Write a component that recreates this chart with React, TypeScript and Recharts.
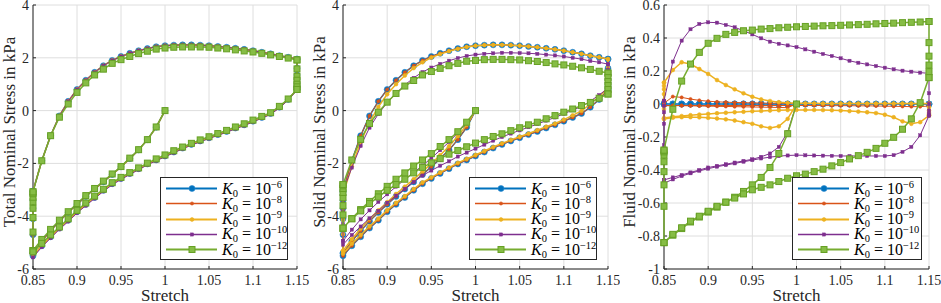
import { ScatterChart, Scatter, XAxis, YAxis, CartesianGrid } from "recharts";

// stretch steps: first compression from 1 to 0.85, loading to 1.15, unloading back to 0.85
const X_INIT = [1.0, 0.99, 0.98, 0.97, 0.96, 0.95, 0.94, 0.93, 0.92, 0.91, 0.9, 0.89, 0.88, 0.87, 0.86, 0.85];
const X_LOAD = [
  0.85, 0.86, 0.87, 0.88, 0.89, 0.9, 0.91, 0.92, 0.93, 0.94, 0.95, 0.96, 0.97, 0.98, 0.99, 1.0,
  1.01, 1.02, 1.03, 1.04, 1.05, 1.06, 1.07, 1.08, 1.09, 1.1, 1.11, 1.12, 1.13, 1.14, 1.15,
];
const X_UNLOAD = [
  1.15, 1.14, 1.13, 1.12, 1.11, 1.1, 1.09, 1.08, 1.07, 1.06, 1.05, 1.04, 1.03, 1.02, 1.01, 1.0,
  0.99, 0.98, 0.97, 0.96, 0.95, 0.94, 0.93, 0.92, 0.91, 0.9, 0.89, 0.88, 0.87, 0.86, 0.85,
];
const HOLD_LOW = 0.85;
const HOLD_HIGH = 1.15;

const X_TICKS = [0.85, 0.9, 0.95, 1, 1.05, 1.1, 1.15];
const STRESS_TICKS = [-6, -4, -2, 0, 2, 4];
const FLUID_TICKS = [-1, -0.8, -0.6, -0.4, -0.2, 0, 0.2, 0.4, 0.6];

// ---- total stress (K0 = 1e-6, 1e-8, 1e-9 overlap) ----
const TOTAL_INIT = [0, -0.63, -1.1, -1.49, -1.82, -2.13, -2.42, -2.7, -2.97, -3.25, -3.55, -3.86, -4.19, -4.55, -4.95, -5.4];
const TOTAL_HOLD1 = [-5.4, -4.7, -4.1, -3.7, -3.4, -3.2, -3.1, -3.05];
const TOTAL_LOAD = [
  -3.05, -1.9, -0.95, -0.2, 0.35, 0.8, 1.15, 1.45, 1.7, 1.9, 2.05, 2.17, 2.27, 2.35, 2.42, 2.46,
  2.48, 2.49, 2.49, 2.48, 2.46, 2.43, 2.4, 2.36, 2.32, 2.27, 2.21, 2.15, 2.08, 2.02, 1.95,
];
const TOTAL_HOLD2 = [1.95, 1.6, 1.35, 1.18, 1.05, 0.95, 0.87, 0.8];
const TOTAL_UNLOAD = [
  0.8, 0.42, 0.13, -0.11, -0.26, -0.4, -0.54, -0.66, -0.79, -0.91, -1.03, -1.15, -1.28, -1.42, -1.57, -1.72,
  -1.87, -2.02, -2.2, -2.38, -2.57, -2.77, -3.02, -3.29, -3.55, -3.83, -4.15, -4.45, -4.78, -5.12, -5.5,
];
const PURPLE_TOTAL_HOLD2 = [1.95, 1.6, 1.35, 1.15, 1.0, 0.88, 0.78];
const PURPLE_TOTAL_UNLOAD = [
  0.78, 0.4, 0.1, -0.14, -0.29, -0.43, -0.57, -0.69, -0.82, -0.94, -1.06, -1.18, -1.31, -1.45, -1.6, -1.75,
  -1.9, -2.06, -2.24, -2.42, -2.61, -2.81, -3.06, -3.33, -3.6, -3.88, -4.2, -4.5, -4.83, -5.17, -5.56,
];
const GREEN_TOTAL_INIT = [0, -0.62, -1.1, -1.48, -1.8, -2.12, -2.4, -2.67, -2.95, -3.22, -3.52, -3.83, -4.15, -4.5, -4.88, -5.3];
const GREEN_TOTAL_HOLD1 = [-5.3, -4.6, -4.05, -3.7, -3.45, -3.28, -3.15, -3.08];
const GREEN_TOTAL_LOAD = [
  -3.08, -1.9, -0.95, -0.25, 0.25, 0.69, 1.05, 1.35, 1.57, 1.79, 1.93, 2.05, 2.16, 2.25, 2.33, 2.37,
  2.4, 2.41, 2.41, 2.41, 2.4, 2.37, 2.34, 2.3, 2.26, 2.22, 2.17, 2.11, 2.05, 1.99, 1.92,
];
const GREEN_TOTAL_HOLD2 = [1.92, 1.58, 1.3, 1.15, 1.0, 0.9, 0.8];
const GREEN_TOTAL_UNLOAD = [
  0.8, 0.44, 0.16, -0.08, -0.22, -0.36, -0.5, -0.62, -0.75, -0.87, -0.99, -1.11, -1.24, -1.38, -1.52, -1.68,
  -1.83, -1.99, -2.17, -2.35, -2.53, -2.73, -2.98, -3.24, -3.5, -3.78, -4.1, -4.41, -4.71, -5.03, -5.35,
];

// ---- solid stress ----
const YELLOW_SOLID_INIT = [0, -0.54, -0.97, -1.35, -1.69, -2.01, -2.31, -2.6, -2.88, -3.16, -3.47, -3.78, -4.11, -4.47, -4.87, -5.31];
const YELLOW_SOLID_HOLD1 = [-5.31, -4.68, -4.14, -3.78, -3.51, -3.33, -3.18];
const YELLOW_SOLID_LOAD = [
  -3.18, -2.11, -1.2, -0.44, 0.14, 0.62, 1.0, 1.33, 1.61, 1.83, 2.01, 2.14, 2.25, 2.34, 2.41, 2.46,
  2.48, 2.49, 2.49, 2.48, 2.46, 2.43, 2.4, 2.36, 2.32, 2.27, 2.21, 2.15, 2.08, 2.02, 1.95,
];
const YELLOW_SOLID_HOLD2 = [1.95, 1.62, 1.38, 1.2, 1.07, 0.96, 0.87];
const YELLOW_SOLID_UNLOAD = [
  0.87, 0.53, 0.25, -0.01, -0.18, -0.34, -0.49, -0.61, -0.74, -0.87, -0.99, -1.11, -1.24, -1.38, -1.53, -1.68,
  -1.83, -1.98, -2.16, -2.34, -2.53, -2.72, -2.97, -3.24, -3.49, -3.77, -4.09, -4.38, -4.71, -5.04, -5.42,
];
const PURPLE_SOLID_INIT = [0, -0.46, -0.84, -1.19, -1.5, -1.8, -2.08, -2.35, -2.61, -2.88, -3.17, -3.46, -3.78, -4.12, -4.51, -4.94];
const PURPLE_SOLID_HOLD1 = [-4.94, -4.3, -3.8, -3.45, -3.22, -3.07];
const PURPLE_SOLID_LOAD = [
  -3.07, -2.16, -1.34, -0.65, -0.13, 0.3, 0.66, 0.97, 1.24, 1.46, 1.63, 1.77, 1.89, 1.99, 2.07, 2.12,
  2.15, 2.17, 2.19, 2.19, 2.18, 2.17, 2.15, 2.12, 2.09, 2.05, 2.0, 1.95, 1.88, 1.83, 1.76,
];
const PURPLE_SOLID_HOLD2 = [1.76, 1.54, 1.35, 1.19, 1.06, 0.95, 0.85];
const PURPLE_SOLID_UNLOAD = [
  0.85, 0.59, 0.36, 0.15, 0.02, -0.12, -0.26, -0.38, -0.51, -0.63, -0.75, -0.87, -1.0, -1.14, -1.29, -1.44,
  -1.59, -1.74, -1.92, -2.09, -2.27, -2.46, -2.7, -2.96, -3.22, -3.49, -3.8, -4.08, -4.39, -4.71, -5.08,
];
const GREEN_SOLID_INIT = [0, -0.44, -0.8, -1.1, -1.36, -1.63, -1.87, -2.1, -2.36, -2.6, -2.87, -3.15, -3.44, -3.75, -4.09, -4.46];
const GREEN_SOLID_HOLD1 = [-4.46, -3.95, -3.6, -3.3, -3.1, -2.95, -2.85, -2.8];
const GREEN_SOLID_LOAD = [
  -2.8, -1.87, -1.09, -0.49, -0.06, 0.32, 0.65, 0.93, 1.14, 1.35, 1.48, 1.6, 1.7, 1.79, 1.87, 1.9,
  1.93, 1.94, 1.94, 1.93, 1.92, 1.89, 1.86, 1.82, 1.77, 1.73, 1.68, 1.62, 1.56, 1.49, 1.42,
];
const GREEN_SOLID_HOLD2 = [1.42, 1.25, 1.1, 0.95, 0.8, 0.63];
const GREEN_SOLID_UNLOAD = [
  0.63, 0.47, 0.31, 0.19, 0.06, -0.06, -0.19, -0.31, -0.44, -0.54, -0.65, -0.76, -0.88, -0.98, -1.1, -1.23,
  -1.37, -1.51, -1.65, -1.82, -1.98, -2.15, -2.36, -2.6, -2.8, -3.02, -3.27, -3.52, -3.8, -4.1, -4.45,
];

// ---- fluid stress ----
const BLUE_FLUID_INIT = [0, 0, 0, 0, 0, 0, 0, 0, 0, 0, 0, 0, 0, 0, 0, 0];
const BLUE_FLUID_HOLD = [0];
const BLUE_FLUID_LOAD = [
  0, 0, 0, 0, 0, 0, 0, 0, 0, 0, 0, 0, 0, 0, 0, 0,
  0, 0, 0, 0, 0, 0, 0, 0, 0, 0, 0, 0, 0, 0, 0,
];
const BLUE_FLUID_UNLOAD = [
  0, 0, 0, 0, 0, 0, 0, 0, 0, 0, 0, 0, 0, 0, 0, 0,
  0, 0, 0, 0, 0, 0, 0, 0, 0, 0, 0, 0, 0, 0, 0,
];
const RED_FLUID_INIT = [0, -0.022, -0.021, -0.02, -0.019, -0.018, -0.017, -0.016, -0.015, -0.014, -0.013, -0.012, -0.011, -0.01, -0.01, -0.01];
const RED_FLUID_HOLD1 = [-0.01, 0, 0.004];
const RED_FLUID_LOAD = [
  0.004, 0.045, 0.04, 0.03, 0.022, 0.017, 0.013, 0.011, 0.009, 0.008, 0.007, 0.006, 0.005, 0.005, 0.004, 0.004,
  0.003, 0.003, 0.003, 0.003, 0.003, 0.003, 0.002, 0.002, 0.002, 0.002, 0.002, 0.002, 0.002, 0.002, 0.002,
];
const RED_FLUID_HOLD2 = [0.002, -0.005, -0.012];
const RED_FLUID_UNLOAD = [
  -0.012, -0.016, -0.016, -0.015, -0.014, -0.013, -0.012, -0.011, -0.011, -0.01, -0.01, -0.01, -0.009, -0.009, -0.009, -0.009,
  -0.009, -0.009, -0.009, -0.009, -0.009, -0.009, -0.009, -0.009, -0.009, -0.009, -0.009, -0.009, -0.009, -0.009, -0.01,
];
const YELLOW_FLUID_INIT = [0, -0.09, -0.135, -0.145, -0.135, -0.12, -0.11, -0.1, -0.093, -0.088, -0.084, -0.081, -0.08, -0.08, -0.083, -0.09];
const YELLOW_FLUID_HOLD1 = [-0.09, -0.03, 0.02, 0.06, 0.09, 0.11, 0.13];
const YELLOW_FLUID_LOAD = [
  0.13, 0.206, 0.253, 0.242, 0.212, 0.182, 0.145, 0.115, 0.089, 0.065, 0.044, 0.028, 0.018, 0.011, 0.007, 0.005,
  0.004, 0.004, 0.003, 0.003, 0.003, 0.003, 0.003, 0.003, 0.003, 0.003, 0.003, 0.003, 0.003, 0.003, 0.003,
];
const YELLOW_FLUID_HOLD2 = [0.003, -0.02, -0.04, -0.055, -0.065, -0.07];
const YELLOW_FLUID_UNLOAD = [
  -0.07, -0.11, -0.12, -0.105, -0.08, -0.065, -0.055, -0.05, -0.046, -0.043, -0.04, -0.038, -0.037, -0.036, -0.036, -0.036,
  -0.037, -0.038, -0.04, -0.042, -0.044, -0.047, -0.05, -0.053, -0.056, -0.06, -0.064, -0.068, -0.073, -0.078, -0.085,
];
const PURPLE_FLUID_INIT = [0, -0.17, -0.26, -0.3, -0.32, -0.335, -0.345, -0.355, -0.365, -0.375, -0.385, -0.4, -0.415, -0.43, -0.445, -0.46];
const PURPLE_FLUID_HOLD1 = [-0.46, -0.25, -0.12, -0.05, -0.01, 0.02];
const PURPLE_FLUID_LOAD = [
  0.02, 0.257, 0.384, 0.453, 0.485, 0.495, 0.493, 0.479, 0.465, 0.444, 0.422, 0.398, 0.378, 0.365, 0.355, 0.345,
  0.331, 0.317, 0.303, 0.291, 0.277, 0.262, 0.25, 0.24, 0.23, 0.22, 0.21, 0.202, 0.196, 0.19, 0.186,
];
const PURPLE_FLUID_HOLD2 = [0.186, 0.065, 0, -0.04, -0.06, -0.07];
const PURPLE_FLUID_UNLOAD = [
  -0.07, -0.19, -0.26, -0.29, -0.31, -0.315, -0.315, -0.315, -0.315, -0.315, -0.315, -0.314, -0.313, -0.312, -0.311, -0.31,
  -0.312, -0.316, -0.322, -0.33, -0.34, -0.35, -0.36, -0.37, -0.38, -0.392, -0.405, -0.42, -0.437, -0.457, -0.48,
];
const GREEN_FLUID_INIT = [0, -0.18, -0.3, -0.385, -0.445, -0.49, -0.53, -0.565, -0.595, -0.625, -0.655, -0.685, -0.715, -0.755, -0.795, -0.84];
const GREEN_FLUID_HOLD1 = [-0.84, -0.62, -0.49, -0.41, -0.35, -0.31, -0.29, -0.28];
const GREEN_FLUID_LOAD = [
  -0.28, -0.032, 0.139, 0.242, 0.313, 0.368, 0.398, 0.422, 0.434, 0.444, 0.448, 0.454, 0.457, 0.462, 0.465, 0.468,
  0.47, 0.472, 0.474, 0.475, 0.477, 0.479, 0.481, 0.483, 0.486, 0.488, 0.49, 0.493, 0.495, 0.497, 0.5,
];
const GREEN_FLUID_HOLD2 = [0.5, 0.372, 0.29, 0.236, 0.196, 0.16];
const GREEN_FLUID_UNLOAD = [
  0.16, 0.008, -0.09, -0.153, -0.202, -0.238, -0.269, -0.293, -0.313, -0.333, -0.355, -0.375, -0.395, -0.41, -0.425, -0.435,
  -0.45, -0.47, -0.49, -0.505, -0.52, -0.545, -0.57, -0.595, -0.62, -0.65, -0.68, -0.71, -0.75, -0.79, -0.84,
];

type Branches = number[][];

const SERIES = [
  { exp: "6", color: "#0072BD", width: 1.5, marker: "circle", size: 3, fill: "#0072BD", edge: "#2b8ad0" },
  { exp: "8", color: "#D95319", width: 1, marker: "circle", size: 1.6, fill: "#D95319", edge: "#D95319" },
  { exp: "9", color: "#EDB120", width: 1.5, marker: "circle", size: 1.9, fill: "#EDB120", edge: "#EDB120" },
  { exp: "10", color: "#7E2F8E", width: 1, marker: "square", size: 1.6, fill: "#7E2F8E", edge: "#7E2F8E" },
  { exp: "12", color: "#77AC30", width: 1.5, marker: "square", size: 3, fill: "#86bd45", edge: "#66a024" },
];

const TOTAL_SERIES: Branches[] = [
  [TOTAL_INIT, TOTAL_HOLD1, TOTAL_LOAD, TOTAL_HOLD2, TOTAL_UNLOAD],
  [TOTAL_INIT, TOTAL_HOLD1, TOTAL_LOAD, TOTAL_HOLD2, TOTAL_UNLOAD],
  [TOTAL_INIT, TOTAL_HOLD1, TOTAL_LOAD, TOTAL_HOLD2, TOTAL_UNLOAD],
  [TOTAL_INIT, TOTAL_HOLD1, TOTAL_LOAD, PURPLE_TOTAL_HOLD2, PURPLE_TOTAL_UNLOAD],
  [GREEN_TOTAL_INIT, GREEN_TOTAL_HOLD1, GREEN_TOTAL_LOAD, GREEN_TOTAL_HOLD2, GREEN_TOTAL_UNLOAD],
];
const SOLID_SERIES: Branches[] = [
  [TOTAL_INIT, TOTAL_HOLD1, TOTAL_LOAD, TOTAL_HOLD2, TOTAL_UNLOAD],
  [TOTAL_INIT, TOTAL_HOLD1, TOTAL_LOAD, TOTAL_HOLD2, TOTAL_UNLOAD],
  [YELLOW_SOLID_INIT, YELLOW_SOLID_HOLD1, YELLOW_SOLID_LOAD, YELLOW_SOLID_HOLD2, YELLOW_SOLID_UNLOAD],
  [PURPLE_SOLID_INIT, PURPLE_SOLID_HOLD1, PURPLE_SOLID_LOAD, PURPLE_SOLID_HOLD2, PURPLE_SOLID_UNLOAD],
  [GREEN_SOLID_INIT, GREEN_SOLID_HOLD1, GREEN_SOLID_LOAD, GREEN_SOLID_HOLD2, GREEN_SOLID_UNLOAD],
];
const FLUID_SERIES: Branches[] = [
  [BLUE_FLUID_INIT, BLUE_FLUID_HOLD, BLUE_FLUID_LOAD, BLUE_FLUID_HOLD, BLUE_FLUID_UNLOAD],
  [RED_FLUID_INIT, RED_FLUID_HOLD1, RED_FLUID_LOAD, RED_FLUID_HOLD2, RED_FLUID_UNLOAD],
  [YELLOW_FLUID_INIT, YELLOW_FLUID_HOLD1, YELLOW_FLUID_LOAD, YELLOW_FLUID_HOLD2, YELLOW_FLUID_UNLOAD],
  [PURPLE_FLUID_INIT, PURPLE_FLUID_HOLD1, PURPLE_FLUID_LOAD, PURPLE_FLUID_HOLD2, PURPLE_FLUID_UNLOAD],
  [GREEN_FLUID_INIT, GREEN_FLUID_HOLD1, GREEN_FLUID_LOAD, GREEN_FLUID_HOLD2, GREEN_FLUID_UNLOAD],
];

function toPath(b: Branches) {
  const [init, hold1, load, hold2, unload] = b;
  return [
    ...init.map((y, i) => ({ x: X_INIT[i], y })),
    ...hold1.map((y) => ({ x: HOLD_LOW, y })),
    ...load.map((y, i) => ({ x: X_LOAD[i], y })),
    ...hold2.map((y) => ({ x: HOLD_HIGH, y })),
    ...unload.map((y, i) => ({ x: X_UNLOAD[i], y })),
  ];
}

const INK = "#262626";
const FONT = "'Liberation Serif', 'Times New Roman', serif";

function Marker({ s, cx, cy }: { s: (typeof SERIES)[number]; cx: number; cy: number }) {
  if (s.marker === "circle") {
    return <circle cx={cx} cy={cy} r={s.size} fill={s.fill} stroke={s.edge} strokeWidth={0.6} />;
  }
  return (
    <rect
      x={cx - s.size}
      y={cy - s.size}
      width={s.size * 2}
      height={s.size * 2}
      fill={s.fill}
      stroke={s.edge}
      strokeWidth={s.size > 2 ? 1 : 0.4}
    />
  );
}

function Legend({ left, width }: { left: number; width: number }) {
  return (
    <div
      style={{
        position: "absolute",
        left,
        top: 177,
        width,
        height: 83,
        boxSizing: "border-box",
        border: `1px solid ${INK}`,
        background: "#fff",
        fontFamily: FONT,
        color: "#000",
      }}
    >
      {SERIES.map((s, i) => (
        <div key={s.exp} style={{ position: "absolute", left: 0, top: 3 + i * 15.3, height: 15, width: "100%" }}>
          <svg width={60} height={15} style={{ position: "absolute", left: 0, top: 0 }}>
            <line x1={5} x2={56} y1={7.5} y2={7.5} stroke={s.color} strokeWidth={s.width + 0.5} />
            <Marker s={s} cx={31} cy={7.5} />
          </svg>
          <span
            style={{
              position: "absolute",
              left: 61,
              top: -0.5,
              fontSize: 16,
              lineHeight: "15px",
              whiteSpace: "nowrap",
            }}
          >
            <i>K</i>
            <span style={{ fontSize: 10.5, position: "relative", top: 3 }}>0</span>
            {" = 10"}
            <span style={{ fontSize: 10.5, position: "relative", top: -6 }}>{"\u2212" + s.exp}</span>
          </span>
        </div>
      ))}
    </div>
  );
}

type PanelProps = {
  left: number;
  width: number;
  axisWidth: number;
  rightMargin: number;
  labelDx: number;
  label: string;
  domain: [number, number];
  ticks: number[];
  series: Branches[];
  legendLeft: number;
  legendWidth: number;
};

function Panel(p: PanelProps) {
  const tickStyle = { fill: INK, fontSize: 14, fontFamily: FONT };
  return (
    <div style={{ position: "absolute", left: p.left, top: 0, width: p.width, height: 303 }}>
      <ScatterChart width={p.width} height={303} margin={{ top: 5, right: p.rightMargin, bottom: 14, left: 0 }}>
        <CartesianGrid stroke="#dedede" strokeWidth={1} />
        <XAxis
          type="number"
          dataKey="x"
          domain={[0.85, 1.15]}
          ticks={X_TICKS}
          interval={0}
          height={20}
          tickSize={-3}
          tickMargin={9}
          axisLine={{ stroke: INK }}
          tickLine={{ stroke: INK }}
          tick={tickStyle}
          label={{ value: "Stretch", position: "bottom", offset: 0, fontSize: 17, fontFamily: FONT, fill: INK }}
        />
        <XAxis
          xAxisId="top"
          orientation="top"
          type="number"
          dataKey="x"
          domain={[0.85, 1.15]}
          ticks={X_TICKS}
          interval={0}
          height={0}
          tickSize={-3}
          axisLine={{ stroke: INK }}
          tickLine={{ stroke: INK }}
          tick={false}
        />
        <YAxis
          type="number"
          dataKey="y"
          domain={p.domain}
          ticks={p.ticks}
          interval={0}
          width={p.axisWidth}
          tickSize={-3}
          tickMargin={7}
          axisLine={{ stroke: INK }}
          tickLine={{ stroke: INK }}
          tick={tickStyle}
          label={{
            value: p.label,
            angle: -90,
            position: "center",
            dx: p.labelDx,
            dy: -5,
            fontSize: 17,
            fontFamily: FONT,
            fill: INK,
          }}
        />
        <YAxis
          yAxisId="right"
          orientation="right"
          type="number"
          dataKey="y"
          domain={p.domain}
          ticks={p.ticks}
          interval={0}
          width={0}
          tickSize={-3}
          axisLine={{ stroke: INK }}
          tickLine={{ stroke: INK }}
          tick={false}
        />
        {SERIES.map((s, i) => (
          <Scatter
            key={s.exp}
            data={toPath(p.series[i])}
            line={{ stroke: s.color, strokeWidth: s.width }}
            lineType="joint"
            isAnimationActive={false}
            shape={(props: any) =>
              props.cx == null ? <g /> : <Marker s={s} cx={props.cx} cy={props.cy} />
            }
          />
        ))}
      </ScatterChart>
      <Legend left={p.legendLeft - p.left} width={p.legendWidth} />
    </div>
  );
}

export default function App() {
  return (
    <div style={{ position: "absolute", left: 0, top: 0, width: 941, height: 303, background: "#fff" }}>
      <Panel
        left={0}
        width={310}
        axisWidth={33}
        rightMargin={13}
        labelDx={-8}
        label="Total Nominal Stress in kPa"
        domain={[-6, 4]}
        ticks={STRESS_TICKS}
        series={TOTAL_SERIES}
        legendLeft={160}
        legendWidth={128}
      />
      <Panel
        left={310}
        width={310}
        axisWidth={33}
        rightMargin={12}
        labelDx={-8}
        label="Solid Nominal Stress in kPa"
        domain={[-6, 4]}
        ticks={STRESS_TICKS}
        series={SOLID_SERIES}
        legendLeft={469}
        legendWidth={128}
      />
      <Panel
        left={620}
        width={321}
        axisWidth={44}
        rightMargin={12}
        labelDx={-13}
        label="Fluid Nominal Stress in kPa"
        domain={[-1, 0.6]}
        ticks={FLUID_TICKS}
        series={FLUID_SERIES}
        legendLeft={792}
        legendWidth={130}
      />
    </div>
  );
}
